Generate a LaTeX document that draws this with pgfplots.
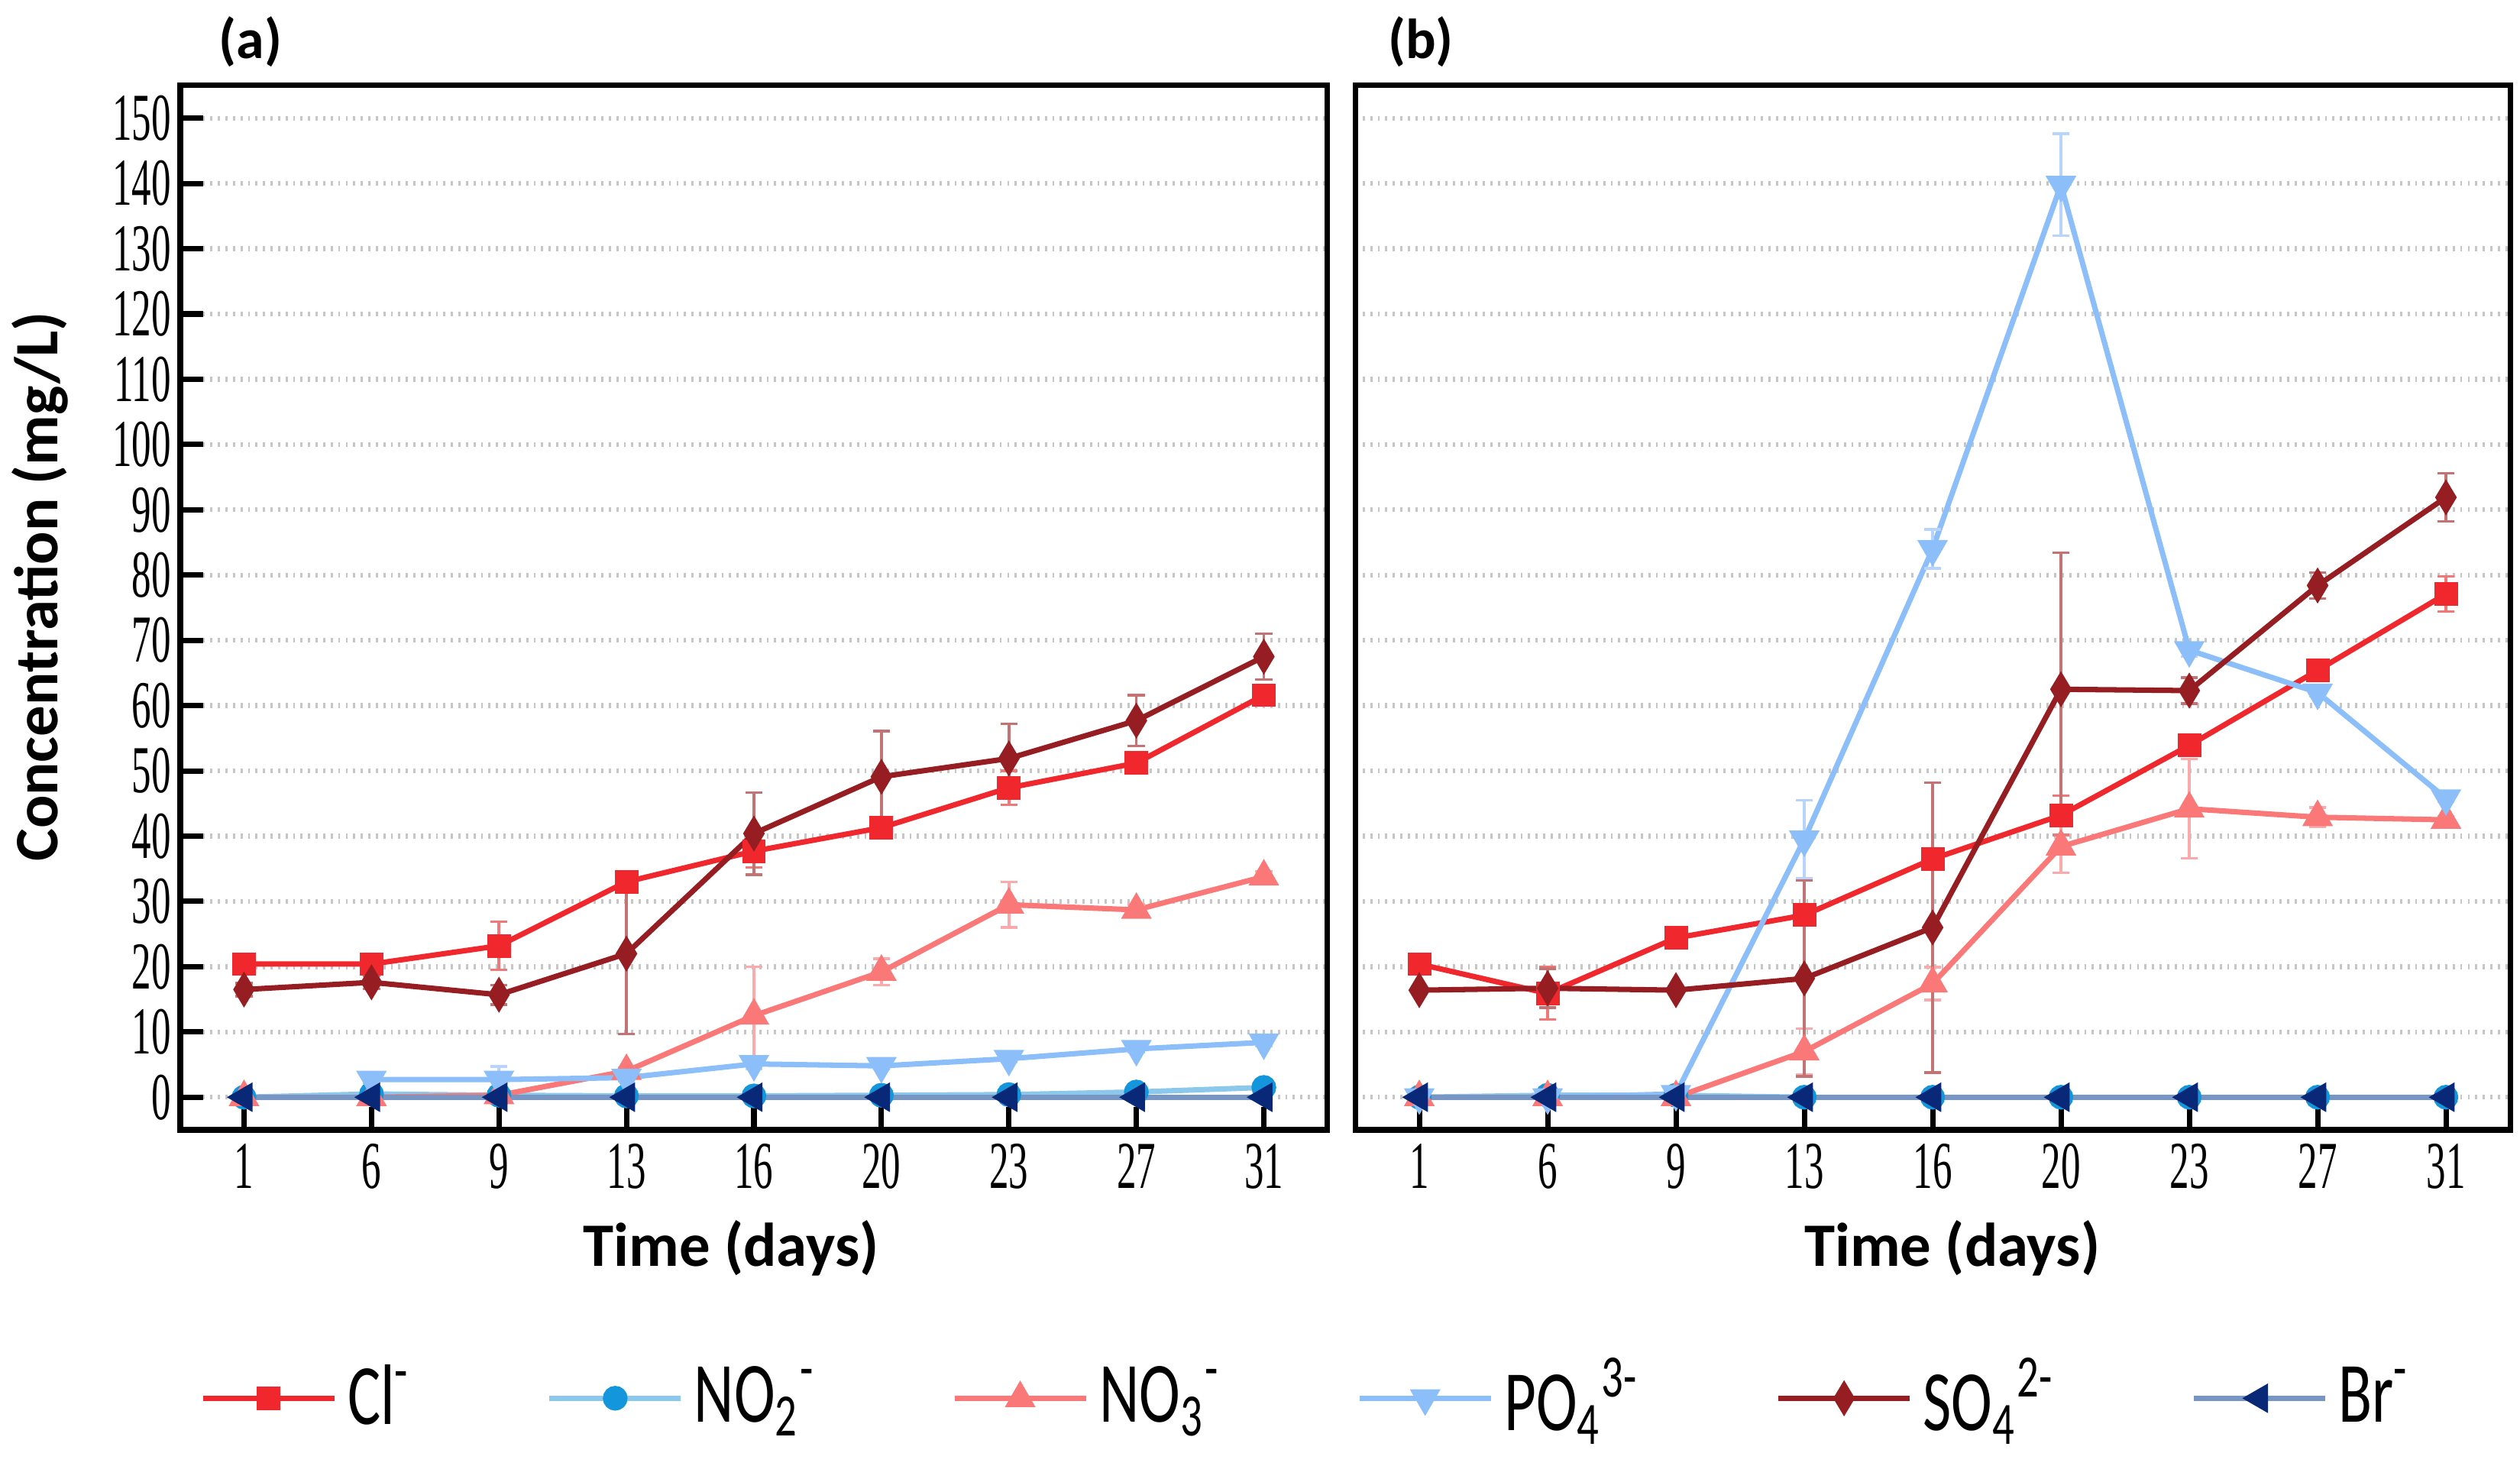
\documentclass[border=0pt]{standalone}
\usepackage{fontspec}
\setmainfont{Carlito}
\newfontfamily\tickfont[FakeStretch=0.58]{Liberation Serif}
\newfontfamily\legfont[FakeStretch=0.72]{Carlito}
\usepackage{pgfplots}
\usepackage{pgfplotstable}
\pgfplotsset{compat=1.18}

\definecolor{clcol}{RGB}{240,40,45}
\definecolor{clerr}{RGB}{240,120,120}
\definecolor{notwoline}{RGB}{140,200,235}
\definecolor{notwomark}{RGB}{20,150,220}
\definecolor{nothree}{RGB}{250,120,120}
\definecolor{nothreeerr}{RGB}{250,170,170}
\definecolor{pofour}{RGB}{140,190,250}
\definecolor{pofourerr}{RGB}{185,212,250}
\definecolor{sofour}{RGB}{150,30,35}
\definecolor{sofourerr}{RGB}{195,115,115}
\definecolor{brline}{RGB}{120,150,195}
\definecolor{brmark}{RGB}{10,40,120}

% x = index of sampling day (1,6,9,13,16,20,23,27,31), y = mg/L, ey = error
\pgfplotstableread{
x y ey
0 20.4 0.5
1 20.4 0.6
2 23.2 3.7
3 33.0 1.5
4 37.7 2.5
5 41.3 1.5
6 47.4 2.6
7 51.2 1.0
8 61.6 1.5
}\clA
\pgfplotstableread{
x y ey
0 0.0 0
1 0.5 0
2 0.3 0
3 0.2 0
4 0.2 0
5 0.3 0
6 0.4 0
7 0.8 0
8 1.5 0
}\notwoA
\pgfplotstableread{
x y ey
0 0.0 0
1 0.0 0
2 0.3 0
3 4.0 0.5
4 12.5 7.5
5 19.2 2.0
6 29.5 3.5
7 28.7 0.8
8 33.8 0.8
}\nothreeA
\pgfplotstableread{
x y ey
1 2.7 0.5
2 2.7 2.0
3 3.0 0.5
4 5.1 0.8
5 4.8 0.5
6 5.9 0.5
7 7.4 0.5
8 8.4 0.5
}\pofourA
\pgfplotstableread{
x y ey
0 16.5 1.0
1 17.6 1.0
2 15.7 1.5
3 22.0 12.3
4 40.4 6.3
5 49.1 7.0
6 51.9 5.3
7 57.7 3.9
8 67.5 3.5
}\sofourA
\pgfplotstableread{
x y ey
0 0 0
1 0 0
2 0 0
3 0 0
4 0 0
5 0 0
6 0 0
7 0 0
8 0 0
}\brA

\pgfplotstableread{
x y ey
0 20.4 0.5
1 15.9 4.0
2 24.4 0.8
3 27.9 0.8
4 36.5 1.0
5 43.2 3.0
6 53.9 1.0
7 65.4 1.0
8 77.1 2.7
}\clB
\pgfplotstableread{
x y ey
0 0.0 0
1 0.3 0
2 0.3 0
3 0.0 0
4 0.0 0
5 0.0 0
6 0.0 0
7 0.0 0
8 0.0 0
}\notwoB
\pgfplotstableread{
x y ey
0 0.0 0
1 0.0 0
2 0.0 0
3 7.0 3.5
4 17.4 2.5
5 38.4 4.0
6 44.2 7.6
7 42.9 1.5
8 42.5 0.5
}\nothreeB
\pgfplotstableread{
x y ey
0 0.0 0
1 0.0 0
2 0.5 0
3 39.5 6.0
4 84.0 3.0
5 139.8 7.8
6 68.5 1.0
7 62.0 0.5
8 45.8 0.5
}\pofourB
\pgfplotstableread{
x y ey
0 16.4 0.5
1 16.7 3.0
2 16.4 0.5
3 18.2 15.0
4 26.0 22.2
5 62.5 20.9
6 62.3 2.0
7 78.4 2.0
8 91.9 3.7
}\sofourB
\pgfplotstableread{
x y ey
0 0 0
1 0 0
2 0 0
3 0 0
4 0 0
5 0 0
6 0 0
7 0 0
8 0 0
}\brB

\pgfplotsset{
  errs/.style={
    error bars/.cd, y dir=both, y explicit,
    error bar style={line width=0.5pt, color=#1},
    error mark options={rotate=90, mark size=1.6pt, line width=0.5pt, color=#1}},
  clsty/.style={line width=1pt, color=clcol, mark=square*, mark size=1.7pt,
    mark options={fill=clcol, draw=clcol}, errs=clerr},
  notwosty/.style={line width=1pt, color=notwoline, mark=*, mark size=1.8pt,
    mark options={fill=notwomark, draw=notwomark}, errs=notwoline},
  nothreesty/.style={line width=1pt, color=nothree, mark=triangle*, mark size=2.3pt,
    mark options={fill=nothree, draw=nothree}, errs=nothreeerr},
  pofoursty/.style={line width=1pt, color=pofour, mark=triangle*, mark size=2.3pt,
    mark options={fill=pofour, draw=pofour, rotate=180}, errs=pofourerr},
  sofoursty/.style={line width=1pt, color=sofour, mark=diamond*, mark size=2.4pt,
    mark options={fill=sofour, draw=sofour, xscale=0.8}, errs=sofourerr},
  brsty/.style={line width=1pt, color=brline, mark=triangle*, mark size=2.2pt,
    mark options={fill=brmark, draw=brmark, rotate=90}},
  panel/.style={
    scale only axis, anchor=south west,
    height=6.835cm,
    xmin=-0.5, xmax=8.5, ymin=-5, ymax=155,
    xtick={0,...,8}, xticklabels={1,6,9,13,16,20,23,27,31},
    ytick={0,10,...,150},
    tick align=inside, xtick pos=bottom, ytick pos=left,
    major tick length=0.15cm,
    tick style={black, line width=1pt},
    axis line style={black, line width=1pt},
    ymajorgrids,
    major grid style={densely dotted, gray!45, line width=0.9pt},
    /pgf/number format/assume math mode=true,
    ticklabel style={font=\tickfont\fontsize{12.5}{12.5}\selectfont},
    xticklabel style={inner sep=1pt, yshift=-0.05cm},
    yticklabel style={inner sep=1pt, xshift=-0.02cm},
    label style={font=\bfseries\fontsize{11.5}{13}\selectfont},
    xlabel={Time (days)},
    legend image code/.code={
      \draw[mark repeat=2, mark phase=2] plot coordinates {(0cm,0cm) (0.43cm,0cm) (0.86cm,0cm)};},
  },
}

\begin{document}
\begin{tikzpicture}
\useasboundingbox (0,0) rectangle (16.495,9.595);

\begin{axis}[panel, at={(1.18cm,2.2cm)}, width=7.51cm,
  ylabel={Concentration (mg/L)},
  ylabel style={at={(axis description cs:-0.122,0.52)}, anchor=center},
  xlabel style={at={(axis description cs:0.48,-0.113)}, anchor=center},
  legend columns=6,
  legend style={at={(0.985,-0.257)}, anchor=center, draw=none, fill=none,
    font=\legfont\fontsize{16}{17}\selectfont, inner sep=1pt,
    /tikz/every even column/.append style={column sep=0.82cm}},
  legend cell align=left]
\addplot[clsty] table[x=x, y=y, y error=ey] {\clA};
\addlegendentry{Cl\textsuperscript{-}}
\addplot[notwosty] table[x=x, y=y, y error=ey] {\notwoA};
\addlegendentry{NO\textsubscript{2}\textsuperscript{-}}
\addplot[nothreesty] table[x=x, y=y, y error=ey] {\nothreeA};
\addlegendentry{NO\textsubscript{3}\textsuperscript{-}}
\addplot[pofoursty] table[x=x, y=y, y error=ey] {\pofourA};
\addlegendentry{PO\textsubscript{4}\textsuperscript{3-}}
\addplot[sofoursty] table[x=x, y=y, y error=ey] {\sofourA};
\addlegendentry{SO\textsubscript{4}\textsuperscript{2-}}
\addplot[brsty] table[x=x, y=y] {\brA};
\addlegendentry{Br\textsuperscript{-}}
\end{axis}

\begin{axis}[panel, at={(8.87cm,2.2cm)}, width=7.56cm,
  yticklabels={}, ytick style={draw=none},
  xlabel style={at={(axis description cs:0.517,-0.113)}, anchor=center}]
\addplot[clsty] table[x=x, y=y, y error=ey] {\clB};
\addplot[notwosty] table[x=x, y=y, y error=ey] {\notwoB};
\addplot[nothreesty] table[x=x, y=y, y error=ey] {\nothreeB};
\addplot[pofoursty] table[x=x, y=y, y error=ey] {\pofourB};
\addplot[sofoursty] table[x=x, y=y, y error=ey] {\sofourB};
\addplot[brsty] table[x=x, y=y] {\brB};
\end{axis}

\node[font=\bfseries\fontsize{10.5}{12}\selectfont] at (1.64,9.32) {(a)};
\node[font=\bfseries\fontsize{10.5}{12}\selectfont] at (9.30,9.32) {(b)};
\end{tikzpicture}
\end{document}
